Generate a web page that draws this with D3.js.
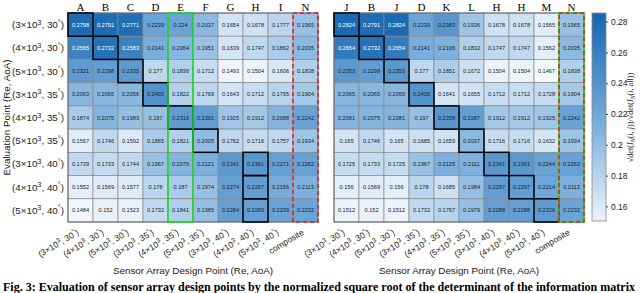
<!DOCTYPE html>
<html lang="en">
<head>
    <meta charset="utf-8">
    <title>Sensor array design heatmaps</title>
    <script src="https://d3js.org/d3.v7.min.js"></script>
    <style>
        body { margin: 0; padding: 0; overflow: hidden; background: #fff; }
        svg { font-family: "Liberation Sans", Arial, sans-serif; }
        .serif { font-family: "Liberation Serif", "Times New Roman", serif; }
    </style>
</head>
<body>
    <svg id="chart"></svg>
    <script>
        // evaluation points (Re x 10^3, AoA deg)
        const evalPoints = [["3", "30"], ["4", "30"], ["5", "30"], ["3", "35"], ["4", "35"], ["5", "35"], ["3", "40"], ["4", "40"], ["5", "40"]];
        const designPoints = [...evalPoints, "composite"];

        const leftCols = ["A", "B", "C", "D", "E", "F", "G", "H", "I", "N"];
        const rightCols = ["J", "B", "J", "D", "K", "L", "H", "H", "M", "N"];

        const leftValues = [
            [0.2798, 0.2791, 0.2771, 0.2239, 0.224, 0.2037, 0.1654, 0.1678, 0.1777, 0.1965],
            [0.2565, 0.2732, 0.2583, 0.2141, 0.2064, 0.1951, 0.1639, 0.1747, 0.1862, 0.2035],
            [0.2321, 0.2298, 0.2335, 0.177, 0.1836, 0.1712, 0.1493, 0.1504, 0.1606, 0.1838],
            [0.2063, 0.2065, 0.2056, 0.2405, 0.1822, 0.1769, 0.1643, 0.1712, 0.1795, 0.1904],
            [0.1874, 0.2075, 0.1983, 0.197, 0.2316, 0.2301, 0.1925, 0.1912, 0.2088, 0.2242],
            [0.1567, 0.1746, 0.1592, 0.1865, 0.1821, 0.2005, 0.1762, 0.1716, 0.1757, 0.1934],
            [0.1739, 0.1733, 0.1744, 0.1967, 0.2075, 0.2121, 0.2341, 0.2361, 0.2271, 0.2262],
            [0.1552, 0.1569, 0.1577, 0.178, 0.187, 0.1974, 0.2274, 0.2297, 0.2156, 0.2113],
            [0.1484, 0.152, 0.1523, 0.1732, 0.1841, 0.1985, 0.2284, 0.2289, 0.2239, 0.2232]
        ];

        const rightValues = [
            [0.2824, 0.2791, 0.2824, 0.2239, 0.2383, 0.1936, 0.1678, 0.1678, 0.1565, 0.1965],
            [0.2654, 0.2732, 0.2654, 0.2141, 0.2106, 0.1832, 0.1747, 0.1747, 0.1562, 0.2035],
            [0.2353, 0.2298, 0.2353, 0.177, 0.1851, 0.1672, 0.1504, 0.1504, 0.1467, 0.1838],
            [0.2065, 0.2065, 0.2065, 0.2405, 0.1641, 0.1655, 0.1712, 0.1712, 0.1728, 0.1904],
            [0.2081, 0.2075, 0.2081, 0.197, 0.2358, 0.2287, 0.1912, 0.1912, 0.1925, 0.2242],
            [0.165, 0.1746, 0.165, 0.1685, 0.1659, 0.2037, 0.1716, 0.1716, 0.1632, 0.1934],
            [0.1725, 0.1733, 0.1725, 0.1967, 0.2125, 0.2111, 0.2361, 0.2361, 0.2244, 0.2262],
            [0.156, 0.1569, 0.156, 0.178, 0.1685, 0.1984, 0.2297, 0.2297, 0.2214, 0.2113],
            [0.1512, 0.152, 0.1512, 0.1732, 0.1797, 0.1979, 0.2288, 0.2288, 0.2326, 0.2232]
        ];

        // highlighted cells [row, col]
        const leftBoxes = [[0, 0], [1, 1], [2, 2], [3, 3], [4, 4], [5, 5], [6, 7], [7, 7], [8, 7]];
        const rightBoxes = [[0, 0], [1, 1], [2, 2], [3, 3], [4, 4], [5, 5], [6, 6], [7, 7], [8, 8]];

        const colorTicks = [0.16, 0.18, 0.2, 0.22, 0.24, 0.26, 0.28];
        const colorDomain = [0.1505, 0.2856];

        const width = 640, height = 293;
        const svg = d3.select("#chart").attr("width", width).attr("height", height);

        const yTop = 13, yBottom = 222;
        const color = d3.scaleLinear()
            .domain([colorDomain[0], 0.218, colorDomain[1]])
            .range(["#ecf4fb", "#72a9da", "#1566b2"]);

        const y = d3.scaleBand().domain(d3.range(9)).range([yTop, yBottom]);

        function addTspans(sel, p) {
            if (typeof p === "string") { sel.text(p); return; }
            sel.append("tspan").text(`(${p[0]}\u00d710`);
            sel.append("tspan").attr("dy", -3.5).attr("font-size", "0.75em").text("3");
            sel.append("tspan").attr("dy", 3.5).text(`, ${p[1]}`);
            sel.append("tspan").attr("dy", -3.5).attr("font-size", "0.75em").text("\u00b0");
            sel.append("tspan").attr("dy", 3.5).text(")");
        }

        function heatmap(x0, cols, values, boxes, greenCol, mixedN) {
            const x = d3.scaleBand().domain(d3.range(10)).range([x0, x0 + 250]);
            const g = svg.append("g");

            const cells = [];
            values.forEach((row, r) => row.forEach((v, c) => cells.push({ r, c, v })));

            g.selectAll("rect.cell").data(cells).join("rect")
                .attr("x", d => x(d.c)).attr("y", d => y(d.r))
                .attr("width", x.bandwidth()).attr("height", y.bandwidth())
                .attr("fill", d => color(d.v))
                .attr("stroke", "#8a8a8a").attr("stroke-width", 0.7);

            g.selectAll("text.val").data(cells).join("text")
                .attr("x", d => x(d.c) + x.bandwidth() / 2)
                .attr("y", d => y(d.r) + y.bandwidth() / 2 + 2)
                .attr("text-anchor", "middle")
                .attr("font-size", 5.6)
                .attr("fill", d => d.v > 0.25 ? "#fff" : "#222")
                .text(d => d.v);

            g.append("rect")
                .attr("x", x0).attr("y", yTop).attr("width", 250).attr("height", yBottom - yTop)
                .attr("fill", "none").attr("stroke", "#666").attr("stroke-width", 1);

            // column letters
            g.selectAll("text.col").data(cols).join("text")
                .attr("class", "serif")
                .attr("x", (d, i) => x(i) + x.bandwidth() / 2).attr("y", 10.5)
                .attr("text-anchor", "middle")
                .attr("font-size", 11)
                .text(d => d);

            // x tick labels
            designPoints.forEach((p, i) => {
                const t = g.append("text")
                    .attr("transform", `translate(${x(i) + x.bandwidth() / 2 - 1},${yBottom + 12}) rotate(-31)`)
                    .attr("text-anchor", "end")
                    .attr("font-size", 8.6)
                    .attr("fill", "#222");
                addTspans(t, p);
            });

            g.append("text")
                .attr("x", x0 + 125).attr("y", 274)
                .attr("text-anchor", "middle").attr("font-size", 9.8).attr("fill", "#222")
                .text("Sensor Array Design Point (Re, AoA)");

            // highlight boxes
            g.selectAll("rect.box").data(boxes).join("rect")
                .attr("x", d => x(d[1])).attr("y", d => y(d[0]))
                .attr("width", x.bandwidth()).attr("height", y.bandwidth())
                .attr("fill", "none").attr("stroke", "#000").attr("stroke-width", 1.5);

            if (greenCol != null) {
                g.append("rect")
                    .attr("x", x(greenCol)).attr("y", yTop).attr("width", x.bandwidth()).attr("height", yBottom - yTop)
                    .attr("fill", "none").attr("stroke", "#16e016").attr("stroke-width", 1.5);
            }
            const nx = x(9);
            if (mixedN) {
                g.append("rect")
                    .attr("x", nx).attr("y", yTop).attr("width", x.bandwidth()).attr("height", yBottom - yTop)
                    .attr("fill", "none").attr("stroke", "#16e016").attr("stroke-width", 1.5);
            }
            g.append("rect")
                .attr("x", nx).attr("y", yTop).attr("width", x.bandwidth()).attr("height", yBottom - yTop)
                .attr("fill", "none").attr("stroke", "#f01818").attr("stroke-width", 1.5)
                .attr("stroke-dasharray", "4,3");
        }

        heatmap(68, leftCols, leftValues, leftBoxes, 4, false);
        heatmap(334, rightCols, rightValues, rightBoxes, null, true);

        // row labels
        evalPoints.forEach((p, i) => {
            const t = svg.append("text")
                .attr("x", 64).attr("y", y(i) + y.bandwidth() / 2 + 3.5)
                .attr("text-anchor", "end").attr("font-size", 9.8).attr("fill", "#222");
            addTspans(t, p);
        });

        svg.append("text")
            .attr("transform", `translate(10,${(yTop + yBottom) / 2}) rotate(-90)`)
            .attr("text-anchor", "middle").attr("font-size", 9.8).attr("fill", "#222")
            .text("Evaluation Point (Re, AoA)");

        // colorbar
        const cbX = 592, cbW = 14;
        const cy = d3.scaleLinear().domain(colorDomain).range([yBottom - 1, yTop]);
        const grad = svg.append("defs").append("linearGradient")
            .attr("id", "cbgrad").attr("x1", 0).attr("y1", 1).attr("x2", 0).attr("y2", 0);
        d3.range(0, 1.0001, 0.1).forEach(f => {
            const v = colorDomain[0] + f * (colorDomain[1] - colorDomain[0]);
            grad.append("stop").attr("offset", f).attr("stop-color", color(v));
        });
        svg.append("rect")
            .attr("x", cbX).attr("y", yTop).attr("width", cbW).attr("height", yBottom - 1 - yTop)
            .attr("fill", "url(#cbgrad)").attr("stroke", "#888").attr("stroke-width", 0.8);

        const cbAxis = d3.axisRight(cy).tickValues(colorTicks).tickSize(2).tickFormat(d3.format("~g"));
        const ag = svg.append("g").attr("transform", `translate(${cbX + cbW},0)`).call(cbAxis);
        ag.select(".domain").remove();
        ag.selectAll("text").attr("font-size", 8.5).attr("fill", "#222")
            .style("font-family", "'Liberation Sans', Arial, sans-serif");
        ag.selectAll("line").attr("stroke", "#444");

        const cl = svg.append("text")
            .attr("class", "serif")
            .attr("transform", `translate(633,${(yTop + yBottom) / 2}) rotate(-90)`)
            .attr("text-anchor", "middle").attr("font-size", 8.2).attr("fill", "#222");
        cl.append("tspan").text("\u221adet(");
        cl.append("tspan").attr("font-style", "italic").text("I");
        cl.append("tspan").attr("font-size", "0.7em").attr("dy", 2).attr("font-style", "italic").text("N");
        cl.append("tspan").attr("dy", -2).text("(");
        cl.append("tspan").attr("font-style", "italic").text("i, j");
        cl.append("tspan").text("))/\u221adet(");
        cl.append("tspan").attr("font-style", "italic").text("I");
        cl.append("tspan").attr("font-size", "0.7em").attr("dy", 2).attr("font-style", "italic").text("N");
        cl.append("tspan").attr("dy", -2).text("(");
        cl.append("tspan").attr("font-style", "italic").text("i,");
        cl.append("tspan").text(" all))");

        // caption
        svg.append("text")
            .attr("class", "serif")
            .attr("x", 3).attr("y", 291)
            .attr("font-weight", "bold").attr("font-size", 11.5)
            .attr("textLength", 632).attr("lengthAdjust", "spacingAndGlyphs")
            .text("Fig. 3:  Evaluation of sensor array design points by the normalized square root of the determinant of the information matrix");
    </script>
</body>
</html>
